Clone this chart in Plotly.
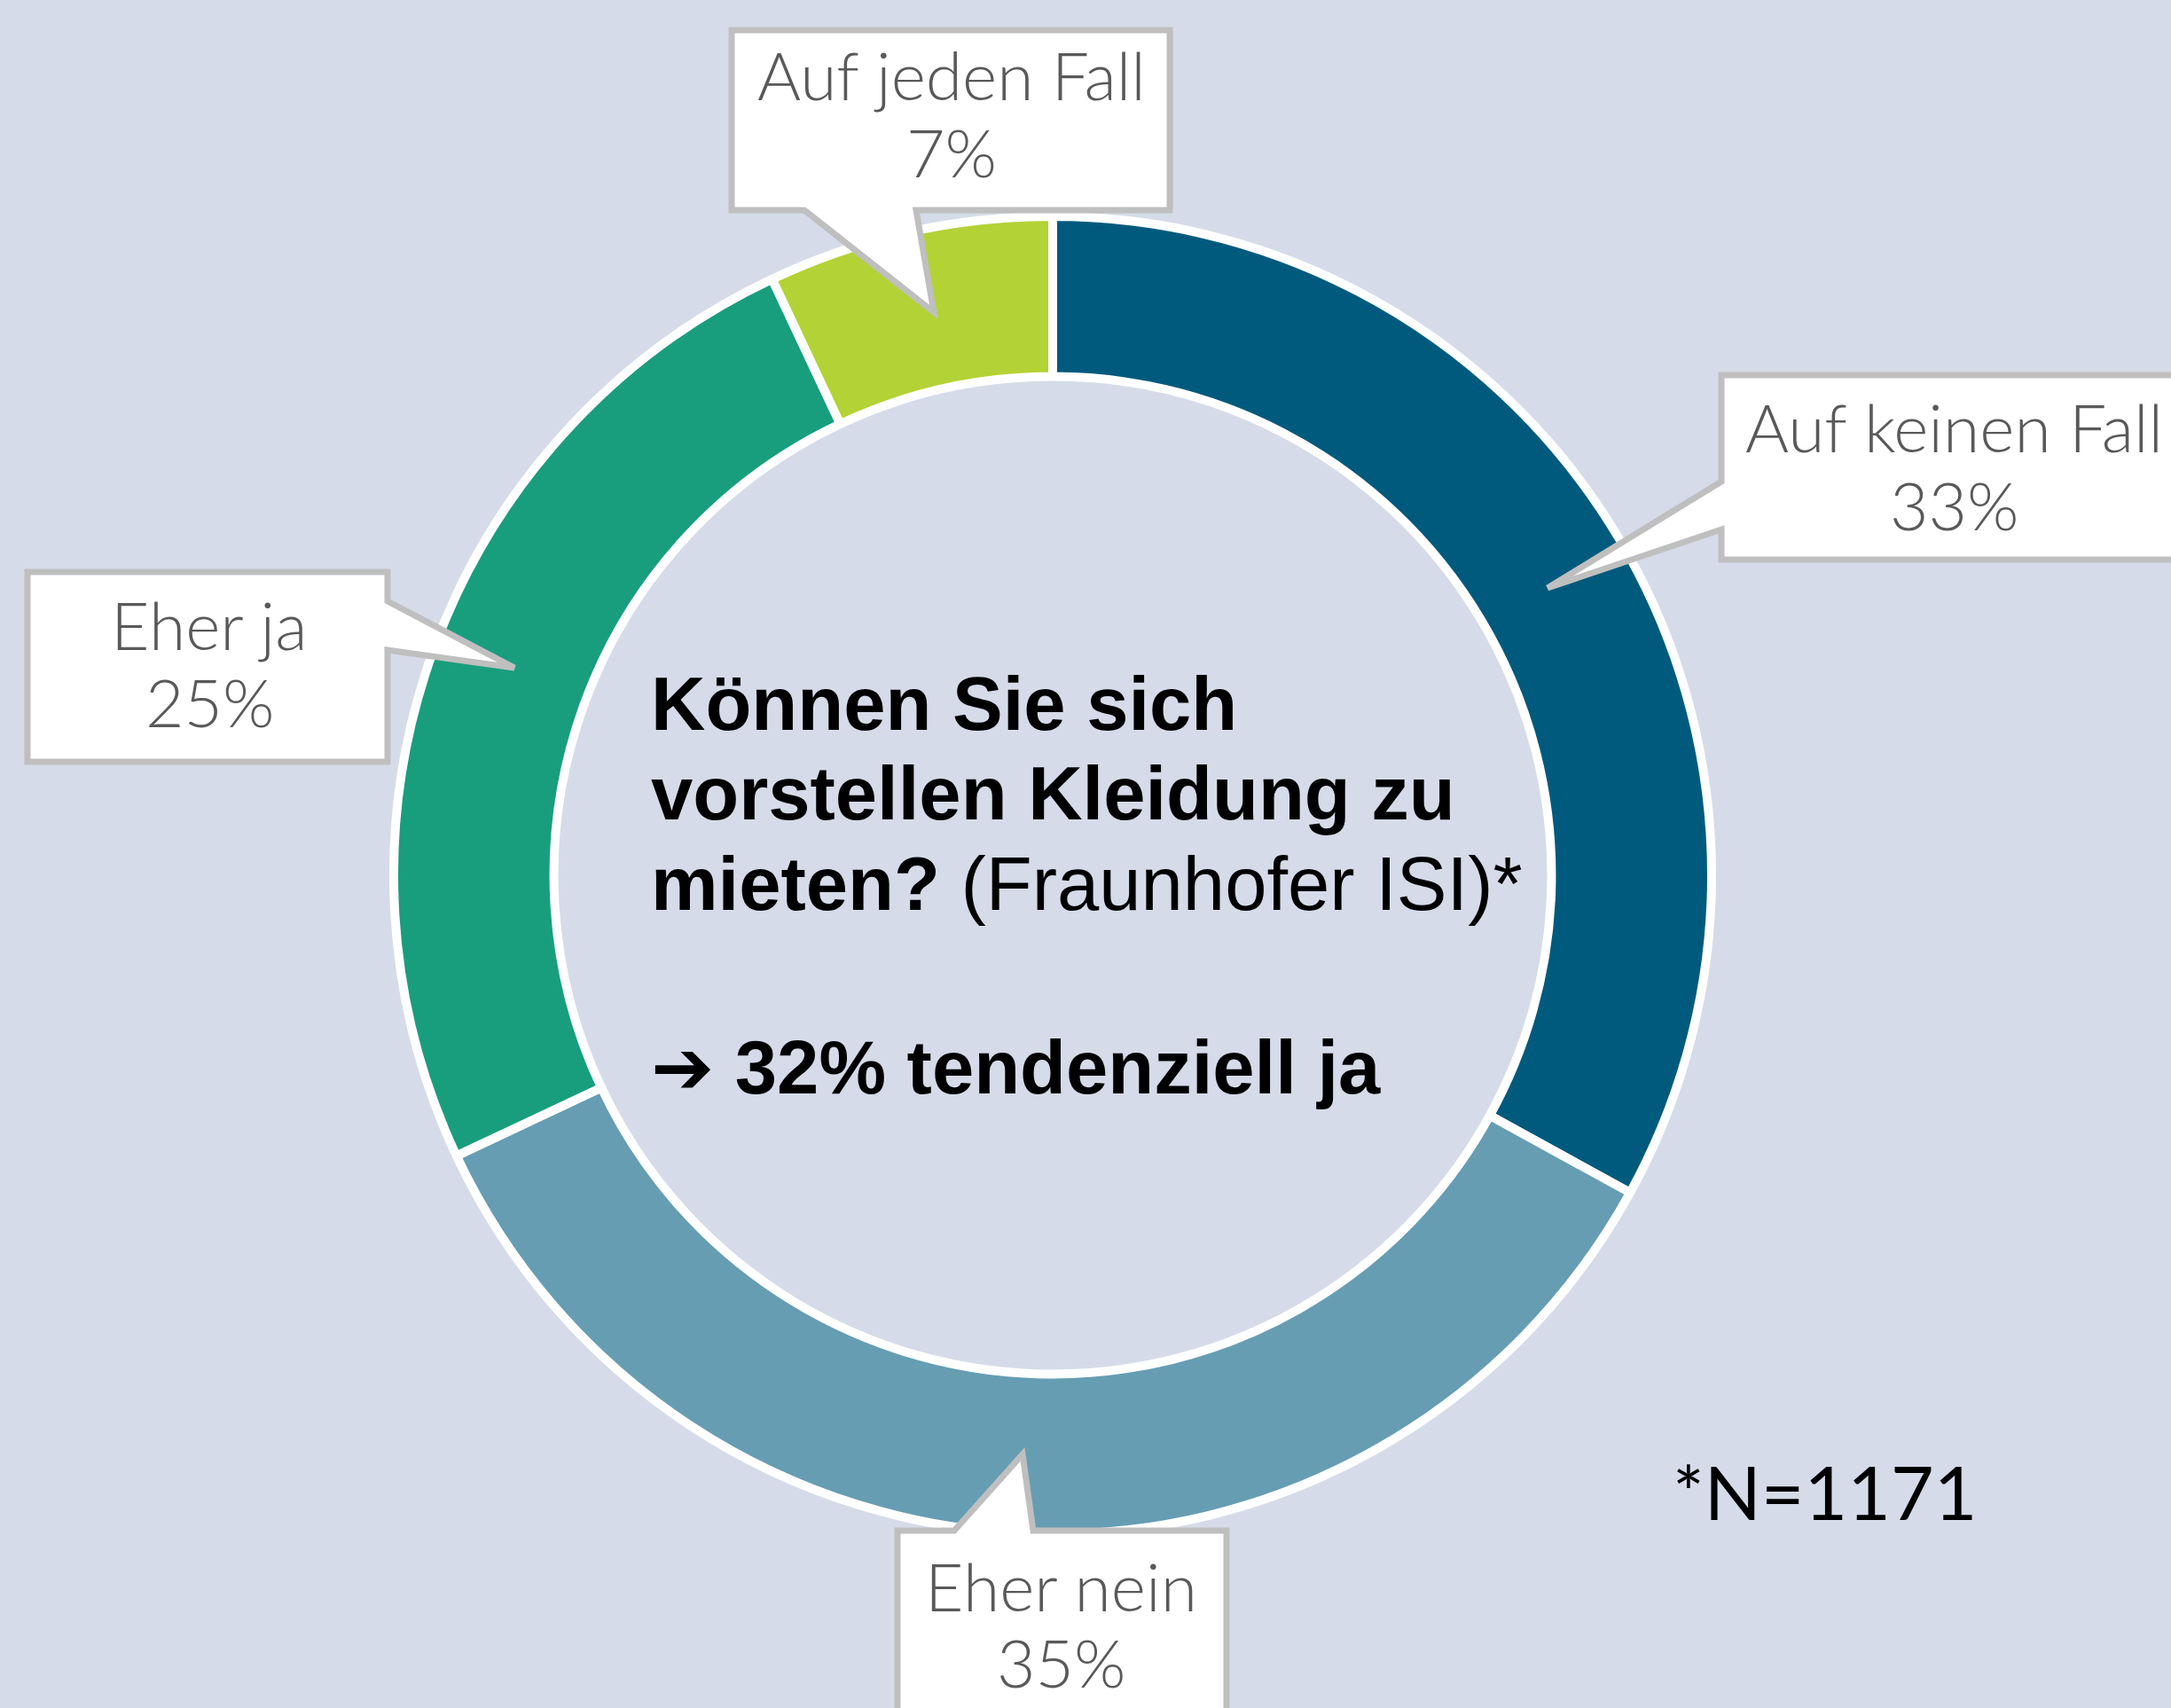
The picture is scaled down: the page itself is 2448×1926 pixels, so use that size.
import plotly.graph_objects as go

W, H = 2448, 1926

# ---- data ----
labels = ["Auf keinen Fall", "Eher nein", "Eher ja", "Auf jeden Fall"]
values = [33, 35, 25, 7]
pct_text = ["33%", "35%", "25%", "7%"]
colors = ["#005A7D", "#669DB3", "#199E7D", "#B3D235"]
title_lines = ["<b>Können Sie sich</b>", "<b>vorstellen Kleidung zu</b>",
               "<b>mieten?</b> (Fraunhofer ISI)*"]
summary = "<span style='font-family:DejaVu Sans'><b>➔</b></span><b> 32% tendenziell ja</b>"
footnote = "*N=1171"

BG = "#D5DBE8"

def fx(x):
    return x / W

def fy(y):
    return 1 - y / H

# pie geometry (pixels)
cx, cy, R = 1187, 987, 743

fig = go.Figure()
fig.add_trace(go.Pie(
    labels=labels, values=values, sort=False, direction="clockwise", rotation=0,
    hole=0.757, textinfo="none", hoverinfo="label+percent",
    marker=dict(colors=colors, line=dict(color="white", width=10)),
    domain=dict(x=[fx(cx - R), fx(cx + R)], y=[fy(cy + R), fy(cy - R)]),
    showlegend=False,
))

def path(points):
    return "M " + " L ".join(f"{fx(x):.5f},{fy(y):.5f}" for x, y in points) + " Z"

# callout outlines (box + pointer) in pixel coordinates
callouts = [
    # Auf jeden Fall (pointer bottom)
    [(825, 34), (1319, 34), (1319, 237), (1033, 237), (1053, 352), (907, 237), (825, 237)],
    # Auf keinen Fall (pointer left)
    [(1941, 423), (2470, 423), (2470, 631), (1941, 631), (1941, 597), (1745, 663), (1941, 543)],
    # Eher ja (pointer right)
    [(31, 645), (437, 645), (437, 678), (580, 753), (437, 733), (437, 859), (31, 859)],
    # Eher nein (pointer top)
    [(1012, 1726), (1076, 1726), (1153, 1640), (1165, 1726), (1383, 1726), (1383, 1960), (1012, 1960)],
]
for pts in callouts:
    fig.add_shape(type="path", path=path(pts), xref="paper", yref="paper",
                  fillcolor="white", line=dict(color="#BFBFBF", width=7), layer="above")

# callout texts: (label index, center x, baseline1, baseline2)
cfont = 75
label_pos = {3: (1073, 113, 200), 0: (2203, 510, 598), 2: (236, 733, 820), 1: (1196, 1817, 1903)}
for i, (x, b1, b2) in label_pos.items():
    for txt, b in ((labels[i], b1), (pct_text[i], b2)):
        fig.add_annotation(x=fx(x), y=fy(b - 0.39 * cfont), xref="paper", yref="paper",
                           text=txt, showarrow=False, xanchor="center", yanchor="middle",
                           font=dict(family="Lato, Open Sans, sans-serif", size=cfont,
                                     color="#595959", weight=300))

# center text
tfont = 85
tx = 732
for txt, b in zip(title_lines + [summary], [823, 924, 1026, 1233]):
    fig.add_annotation(x=fx(tx), y=fy(b - 0.346 * tfont), xref="paper", yref="paper",
                       text=txt, showarrow=False, xanchor="left", yanchor="middle",
                       font=dict(family="Liberation Sans, Arial, sans-serif", size=tfont,
                                 color="black"))

# footnote
ffont = 84
fig.add_annotation(x=fx(1884), y=fy(1714 - 0.387 * ffont), xref="paper", yref="paper",
                   text=footnote, showarrow=False, xanchor="left", yanchor="middle",
                   font=dict(family="Lato, sans-serif", size=ffont, color="black"))

fig.update_layout(width=W, height=H, margin=dict(l=0, r=0, t=0, b=0),
                  paper_bgcolor=BG, plot_bgcolor=BG)

fig.write_html("out.html", config={"displayModeBar": False},
               post_script="document.body.style.margin='0';document.body.style.overflow='hidden';"
                           "document.documentElement.style.overflow='hidden';")
